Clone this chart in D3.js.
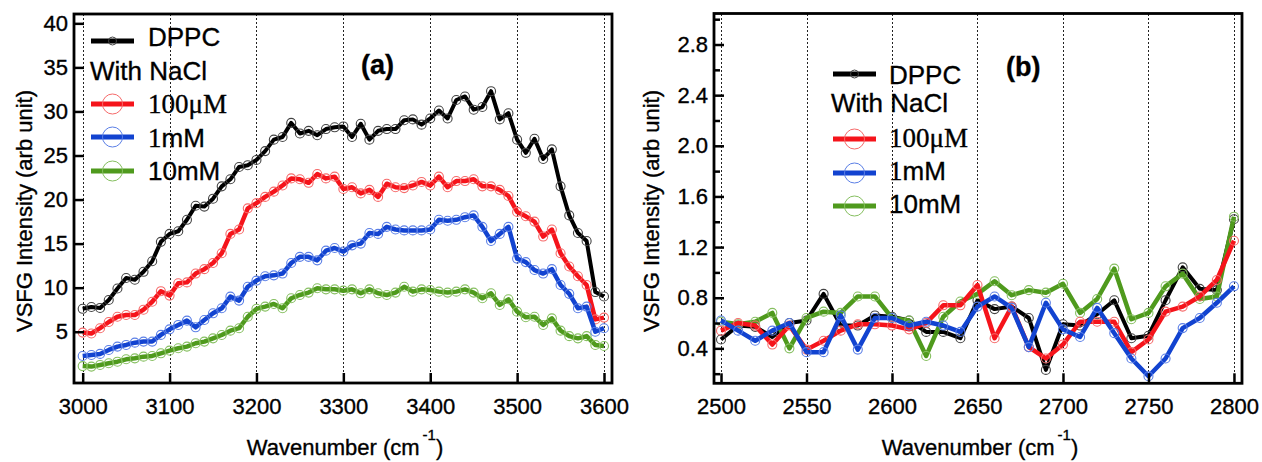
<!DOCTYPE html>
<html>
<head>
<meta charset="utf-8">
<script src="https://cdn.jsdelivr.net/npm/d3@7"></script>
<style>
  body { margin: 0; background: #fff; }
  svg { display: block; font-family: "Liberation Sans", Arial, sans-serif; }
  text { stroke: #000; stroke-width: 0.35px; }
</style>
</head>
<body>
<svg id="chart" width="1262" height="462"></svg>
<script>
// ---- data, panel (a): 3000-3600 cm-1 ----
const waveA = [3000,3010,3020,3030,3040,3050,3060,3070,3080,3090,3100,3110,3120,3130,3140,3150,3160,3170,3180,3190,
  3200,3210,3220,3230,3240,3250,3260,3270,3280,3290,3300,3310,3320,3330,3340,3350,3360,3370,3380,3390,
  3400,3410,3420,3430,3440,3450,3460,3470,3480,3490,3500,3510,3520,3530,3540,3550,3560,3570,3580,3590,3600];
const dppcA = [7.6,7.8,7.7,8.6,9.9,11.1,10.9,11.8,13.0,15.2,16.1,16.4,17.7,19.3,19.2,20.1,21.5,22.3,23.7,23.9,
  24.5,25.5,26.8,27.1,28.7,27.5,27.8,27.3,28.0,28.2,28.3,27.1,28.6,26.8,27.8,28.0,28.0,29.0,29.1,28.5,
  29.2,30.1,29.2,31.3,31.7,30.2,30.5,32.3,29.1,29.8,26.8,25.3,26.9,24.6,25.7,21.5,18.2,16.2,15.3,9.5,9.0];
const nacl100A = [4.9,4.8,5.4,6.1,6.7,6.9,6.9,7.5,8.4,9.6,9.1,10.5,10.6,11.6,12.1,12.8,13.9,16.1,16.6,19.0,
  19.6,20.3,20.9,21.6,22.4,22.3,21.9,22.9,22.4,22.6,21.2,21.4,20.7,21.1,20.3,21.8,21.4,21.3,21.6,22.0,
  21.6,22.6,21.4,22.1,22.1,22.3,21.5,21.5,21.1,20.4,18.6,18.1,17.5,15.8,16.6,13.9,12.4,11.3,10.3,6.4,6.6];
const nacl1mA = [2.25,2.36,2.48,2.93,3.31,3.5,3.76,3.88,3.88,4.64,5.27,5.77,6.26,5.5,6.33,7.09,7.66,8.98,8.53,10.1,
  10.8,11.3,11.4,11.6,12.8,13.5,13.5,13.1,14.2,14.5,14.1,14.8,15.0,16.2,16.1,16.9,16.6,16.5,16.5,16.5,
  16.6,17.7,17.6,17.7,18.0,18.2,16.9,15.3,16.1,16.9,13.3,12.9,12.0,11.6,12.1,10.3,9.3,7.66,7.85,5.0,5.4];
const nacl10mA = [1.1,1.04,1.23,1.42,1.6,1.87,1.98,2.17,2.25,2.55,2.85,3.12,3.31,3.69,3.88,4.25,4.63,5.12,5.4,6.7,
  7.6,7.85,8.15,7.66,8.8,9.17,9.44,9.93,9.81,9.81,9.66,9.81,9.36,9.81,9.36,9.17,9.44,10.1,9.55,9.81,
  9.74,9.55,9.44,9.55,9.81,9.44,8.8,9.36,8.04,8.68,7.28,6.64,6.7,5.77,6.52,5.12,4.5,4.25,4.5,3.5,3.38];
const xTicksA = [3000,3100,3200,3300,3400,3500,3600];
const yTicksA = [5,10,15,20,25,30,35,40];

// ---- data, panel (b): 2500-2800 cm-1 ----
const waveB = [2500,2510,2520,2530,2540,2550,2560,2570,2580,2590,2600,2610,2620,2630,2640,2650,
  2660,2670,2680,2690,2700,2710,2720,2730,2740,2750,2760,2770,2780,2790,2800];
const dppcB = [0.47,0.58,0.57,0.49,0.60,0.62,0.83,0.58,0.58,0.66,0.65,0.62,0.53,0.53,0.48,0.78,
  0.71,0.73,0.64,0.23,0.59,0.58,0.67,0.78,0.48,0.50,0.78,1.04,0.87,0.86,1.42];
const nacl100B = [0.54,0.60,0.58,0.43,0.58,0.39,0.46,0.54,0.59,0.59,0.58,0.55,0.60,0.74,0.74,0.90,
  0.48,0.73,0.41,0.32,0.43,0.61,0.61,0.61,0.37,0.47,0.69,0.73,0.81,0.94,1.25];
const nacl1mB = [0.62,0.54,0.46,0.54,0.60,0.37,0.37,0.66,0.39,0.64,0.64,0.58,0.61,0.58,0.53,0.73,
  0.81,0.72,0.41,0.76,0.55,0.49,0.72,0.52,0.32,0.18,0.32,0.56,0.64,0.76,0.89];
const nacl10mB = [0.61,0.59,0.61,0.68,0.40,0.64,0.69,0.68,0.81,0.81,0.64,0.62,0.34,0.65,0.77,0.83,
  0.93,0.82,0.86,0.84,0.91,0.68,0.79,1.03,0.63,0.68,0.89,0.99,0.79,0.81,1.44];
const xTicksB = [2500,2550,2600,2650,2700,2750,2800];
const yTicksB = [0.4,0.8,1.2,1.6,2.0,2.4,2.8];
const yMinorB = [0.2,0.6,1.0,1.4,1.8,2.2,2.6,3.0];

const colors = { dppc: "#000000", c100: "#f5141b", c1m: "#1243d0", c10m: "#4f9a1d" };
const markerColors = { dppc: "#444444", c100: "#f66a6a", c1m: "#5b7fe6", c10m: "#86bf60" };

const svg = d3.select("#chart");

function drawPanel(p) {
  const x = d3.scaleLinear().domain(p.xDomain).range([p.left, p.right]);
  const y = d3.scaleLinear().domain(p.yDomain).range([p.bottom, p.top]);
  const g = svg.append("g");

  // dotted vertical grid, snapped to the pixel grid so the dots stay crisp
  g.selectAll(".grid").data(p.xTicks).enter().append("line")
    .attr("x1", d => Math.round(x(d)) + 0.5).attr("x2", d => Math.round(x(d)) + 0.5)
    .attr("y1", p.top).attr("y2", p.bottom)
    .style("stroke", "#222").style("stroke-width", 1).style("stroke-dasharray", "2,2")
    .style("shape-rendering", "crispEdges");

  // series: black first, blue on top
  const order = ["dppc", "c10m", "c100", "c1m"];
  order.forEach(key => {
    const vals = p.series[key];
    const pts = p.wave.map((w, i) => [w, vals[i]]);
    g.append("path").datum(pts)
      .attr("d", d3.line().x(d => x(d[0])).y(d => y(d[1])))
      .style("fill", "none").style("stroke", colors[key])
      .style("stroke-width", key === "dppc" ? 4 : 4.5)
      .style("stroke-linejoin", "round");
    g.selectAll(".m" + key).data(pts).enter().append("circle")
      .attr("cx", d => x(d[0])).attr("cy", d => y(d[1])).attr("r", 4.5)
      .style("fill", "none").style("stroke", markerColors[key]).style("stroke-width", 1.1);
  });

  // axes (ticks inward)
  const xAxis = g.append("g").attr("transform", `translate(0,${p.bottom})`)
    .call(d3.axisBottom(x).tickValues(p.xTicks).tickSizeInner(-10).tickSizeOuter(0).tickPadding(15).tickFormat(d3.format("d")));
  const yAxis = g.append("g").attr("transform", `translate(${p.left},0)`)
    .call(d3.axisLeft(y).tickValues(p.yTicks).tickSizeInner(-10).tickSizeOuter(0).tickPadding(6).tickFormat(p.yFormat));
  if (p.yMinor) {
    g.append("g").attr("transform", `translate(${p.left},0)`)
      .call(d3.axisLeft(y).tickValues(p.yMinor).tickSizeInner(-6).tickSizeOuter(0).tickFormat(""))
      .call(a => a.select(".domain").remove())
      .selectAll("line").style("stroke-width", 2.5);
  }
  [xAxis, yAxis].forEach(a => {
    a.select(".domain").remove();
    a.selectAll("line").style("stroke", "#000").style("stroke-width", 2.5);
    a.selectAll("text").style("font-size", "22px").style("fill", "#000")
      .style("font-family", "'Liberation Sans', Arial, sans-serif");
  });

  // frame
  g.append("rect").attr("x", p.left).attr("y", p.top)
    .attr("width", p.right - p.left).attr("height", p.bottom - p.top)
    .style("fill", "none").style("stroke", "#000").style("stroke-width", 2.8);

  // axis titles
  g.append("text").attr("transform", `translate(${p.yLabelX},${p.yLabelY}) rotate(-90)`)
    .attr("text-anchor", "middle").style("font-size", "22px").text("VSFG Intensity (arb unit)");
  const xl = g.append("text").attr("x", p.xLabelX).attr("y", 455)
    .attr("text-anchor", "middle").style("font-size", "22px");
  xl.append("tspan").text("Wavenumber (cm");
  xl.append("tspan").attr("dx", 3).attr("dy", -15).style("font-size", "15px").text("-1");
  xl.append("tspan").attr("dy", 15).text(")");

  // panel tag
  g.append("text").attr("x", p.tagX).attr("y", p.tagY)
    .style("font-size", "27px").style("font-weight", "bold").text(p.tag);

  // legend
  const L = p.legend;
  const lg = g.append("g");
  const sample = (key, cy, big) => {
    lg.append("line").attr("x1", L.x0).attr("x2", L.x1).attr("y1", cy).attr("y2", cy)
      .style("stroke", colors[key]).style("stroke-width", 5);
    lg.append("circle").attr("cx", (L.x0 + L.x1) / 2).attr("cy", cy).attr("r", big ? 10 : 4)
      .style("fill", "none").style("stroke", markerColors[key]).style("stroke-width", 1);
  };
  sample("dppc", L.rows[0], false);
  lg.append("text").attr("x", L.tx).attr("y", L.base[0]).style("font-size", "26px").text("DPPC");
  lg.append("text").attr("x", L.wx).attr("y", L.base[1]).style("font-size", "26px").text("With NaCl");
  sample("c100", L.rows[1], true);
  lg.append("text").attr("x", L.tx).attr("y", L.base[2]).style("font-size", "27px")
    .style("font-family", "'Liberation Serif', 'Times New Roman', serif").text("100\u03bcM");
  sample("c1m", L.rows[2], true);
  const t1 = lg.append("text").attr("x", L.tx).attr("y", L.base[3]).style("font-size", "26px");
  t1.append("tspan").style("font-family", "'Liberation Serif', 'Times New Roman', serif").style("font-size", "27px").text("1");
  t1.append("tspan").text("mM");
  sample("c10m", L.rows[3], true);
  lg.append("text").attr("x", L.tx).attr("y", L.base[4]).style("font-size", "26px").text("10mM");
}

drawPanel({
  left: 74, right: 612, top: 14, bottom: 383,
  xDomain: [2990, 3609.2], yDomain: [-0.82, 41.06],
  xTicks: xTicksA, yTicks: yTicksA, yFormat: d3.format("d"),
  wave: waveA,
  series: { dppc: dppcA, c100: nacl100A, c1m: nacl1mA, c10m: nacl10mA },
  yLabelX: 32, yLabelY: 211, xLabelX: 345,
  tag: "(a)", tagX: 361, tagY: 74,
  legend: { x0: 91, x1: 134, tx: 148, wx: 90,
    rows: [41, 104, 137, 171], base: [46, 80, 113, 147, 180] }
});

drawPanel({
  left: 714, right: 1242, top: 13.5, bottom: 383.3,
  xDomain: [2495.9, 2804.7], yDomain: [0.124, 3.045],
  xTicks: xTicksB, yTicks: yTicksB, yMinor: yMinorB, yFormat: d3.format(".1f"),
  wave: waveB,
  series: { dppc: dppcB, c100: nacl100B, c1m: nacl1mB, c10m: nacl10mB },
  yLabelX: 659, yLabelY: 211, xLabelX: 980,
  tag: "(b)", tagX: 1006, tagY: 76,
  legend: { x0: 833, x1: 876, tx: 889, wx: 831,
    rows: [74, 139, 173, 206], base: [84, 112, 147, 180, 213] }
});
</script>
</body>
</html>
